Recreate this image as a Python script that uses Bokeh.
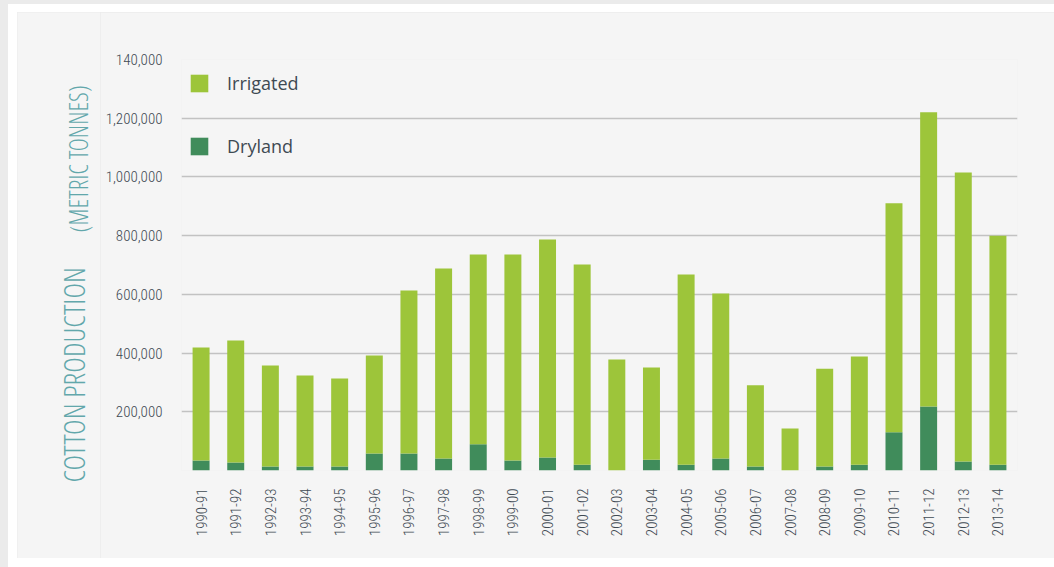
from bokeh.plotting import figure
from bokeh.layouts import row
from bokeh.models import Legend, FactorRange, FixedTicker
from bokeh.core.properties import value
from bokeh.embed import file_html
from bokeh.resources import INLINE

seasons = ["1990-91", "1991-92", "1992-93", "1993-94", "1994-95", "1995-96",
           "1996-97", "1997-98", "1998-99", "1999-00", "2000-01", "2001-02",
           "2002-03", "2003-04", "2004-05", "2005-06", "2006-07", "2007-08",
           "2008-09", "2009-10", "2010-11", "2011-12", "2012-13", "2013-14"]
dryland = [34000, 27000, 14000, 14000, 14000, 58000, 58000, 41000, 89000, 34000,
           44000, 20000, 0, 37000, 20000, 41000, 14000, 0, 14000, 20000,
           130000, 218000, 31000, 20000]
irrigated = [385000, 416000, 344000, 310000, 299000, 334000, 555000, 647000,
             647000, 702000, 743000, 682000, 378000, 314000, 648000, 562000,
             276000, 143000, 333000, 368000, 780000, 1002000, 984000, 780000]
y_ticks = [0, 200000, 400000, 600000, 800000, 1000000, 1200000, 1400000]
y_tick_labels = ["", "200,000", "400,000", "600,000", "800,000", "1,000,000",
                 "1,200,000", "140,000"]
title_main = "COTTON PRODUCTION"
title_unit = "(METRIC TONNES)"

IRR = "#9dc53a"
DRY = "#408c5b"
TEXT = "#3f4a53"
TEAL = "#62a7ab"
PANEL = "#f5f5f5"
TICK_FONT = "Roboto Condensed Light"
TITLE_FONT = "Open Sans Condensed Light"

data = {"season": seasons, "Dryland": dryland, "Irrigated": irrigated}

# left strip holding the vertical axis title (its frame is the whole strip)
t = figure(width=83, height=546, x_range=(0, 83), y_range=(0, 546),
           x_axis_type=None, y_axis_type=None, output_backend="svg",
           toolbar_location=None, min_border=0, frame_align=False)
t.margin = (12, 0, 0, 17)
t.styles = {"box-shadow": "-9px 0 0 0 white, 0 -8px 0 0 white, "
                          "-9px -8px 0 0 white, 0 9px 0 0 white, -9px 9px 0 0 white"}
t.background_fill_color = PANEL
t.border_fill_color = PANEL
t.outline_line_color = None
t.grid.visible = False
t.text(x=[56], y=[76], text=[title_main], angle=1.5708,
       text_font=value(TITLE_FONT), text_font_size="30px", text_color=TEAL,
       text_align="left", text_baseline="middle")
t.text(x=[61], y=[326], text=[title_unit], angle=1.5708,
       text_font=value(TITLE_FONT), text_font_size="25px", text_color=TEAL,
       text_align="left", text_baseline="middle")

p = figure(x_range=FactorRange(*seasons, range_padding=0.065,
                               range_padding_units="absolute"),
           y_range=(0, 1400000), width=954, height=546,
           output_backend="svg", toolbar_location=None, frame_align=False,
           min_border_left=81, min_border_right=37,
           min_border_top=47, min_border_bottom=88)
p.margin = (12, 0, 0, 0)
p.styles = {"box-shadow": "0 -8px 0 0 white, 0 9px 0 0 white"}
p.background_fill_color = PANEL
p.border_fill_color = PANEL
p.outline_line_color = None

rs = p.vbar_stack(["Dryland", "Irrigated"], x="season", width=0.49,
                  color=[DRY, IRR], line_color=None, source=data)

p.xgrid.grid_line_color = None
p.ygrid.grid_line_color = "#c2c2c2"
p.ygrid.grid_line_width = 1.5
p.yaxis.ticker = FixedTicker(ticks=y_ticks)
p.yaxis.major_label_overrides = {t_: l for t_, l in zip(y_ticks, y_tick_labels)}

for ax in (p.xaxis[0], p.yaxis[0]):
    ax.axis_line_color = None
    ax.major_tick_line_color = None
    ax.minor_tick_line_color = None
    ax.major_tick_out = 0
    ax.major_tick_in = 0
    ax.minor_tick_out = 0
    ax.major_label_text_font = TICK_FONT
    ax.major_label_text_font_size = "15px"
    ax.major_label_text_color = TEXT
p.yaxis.major_label_standoff = 19
p.xaxis.major_label_standoff = 18
p.xaxis.major_label_orientation = 1.5708

legend = Legend(items=[("Irrigated", [rs[1]]), ("Dryland", [rs[0]])],
                location=(7, 312), padding=0, spacing=39,
                glyph_width=22, glyph_height=22, label_standoff=17,
                label_text_font="Open Sans", label_text_font_size="18px",
                label_text_color="#3e4a53", border_line_color=None,
                background_fill_alpha=0)
p.add_layout(legend)

open("out.html", "w").write(
    file_html(row(t, p), INLINE).replace(
        "</head>", "<style>html,body{background:#ebebeb !important;}</style></head>", 1))
